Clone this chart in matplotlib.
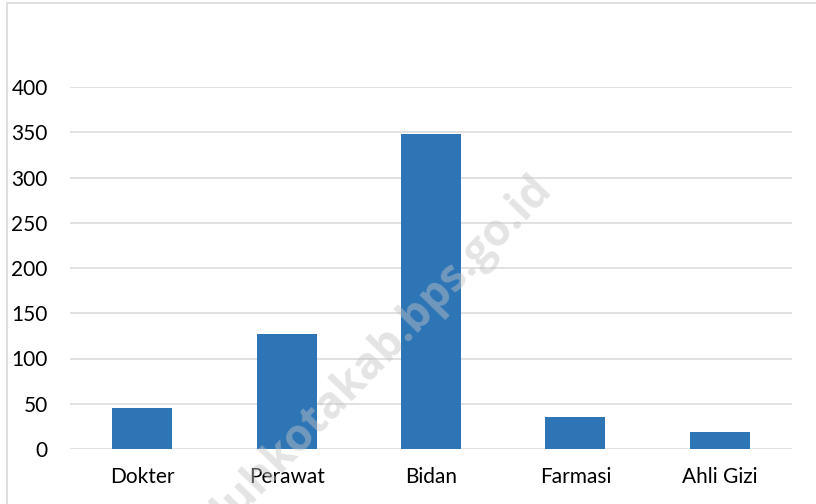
import matplotlib.pyplot as plt
from matplotlib.patches import Rectangle

# tenaga kesehatan per jenis
categories = ["Dokter", "Perawat", "Bidan", "Farmasi", "Ahli Gizi"]
values = [45, 127, 348, 35, 19]
yticks = [0, 50, 100, 150, 200, 250, 300, 350, 400]

BAR_COLOR = "#2E75B6"
GRID_COLOR = "#D9D9D9"

plt.rcParams["font.family"] = ["Lato", "DejaVu Sans"]

fig = plt.figure(figsize=(8.16, 5.04), dpi=100)
ax = fig.add_axes([70 / 816, 1 - 449 / 504, 722 / 816, 362 / 504])

x = range(len(categories))
ax.bar(x, values, width=0.415, color=BAR_COLOR, zorder=3)

ax.set_xlim(-0.5, len(categories) - 0.5)
ax.set_ylim(0, 400)
ax.set_yticks(yticks)
ax.set_xticks(list(x))
ax.set_xticklabels(categories)

ax.yaxis.grid(True, color=GRID_COLOR, linewidth=1.1, zorder=0)
ax.set_axisbelow(True)
for s in ax.spines.values():
    s.set_visible(False)
ax.tick_params(axis="both", length=0, labelsize=15, colors="black")
ax.tick_params(axis="y", pad=16)
ax.tick_params(axis="x", pad=13)

# chart frame (only left/top edges visible in the crop)
fig.patches.append(Rectangle((6.5 / 816, -0.1), 1.2, 1.1 - 3.5 / 504,
                             transform=fig.transFigure, fill=False,
                             edgecolor=GRID_COLOR, linewidth=1.2))

# watermark
fig.text(553 / 816, 1 - 190 / 504, "limapuluhkotakab.bps.go.id",
         rotation=46, rotation_mode="anchor", ha="right", va="baseline",
         fontsize=32, fontweight="bold", family="Open Sans",
         color="#C4C4C4", alpha=0.45, zorder=10)

fig.savefig("out.png", dpi=100)
